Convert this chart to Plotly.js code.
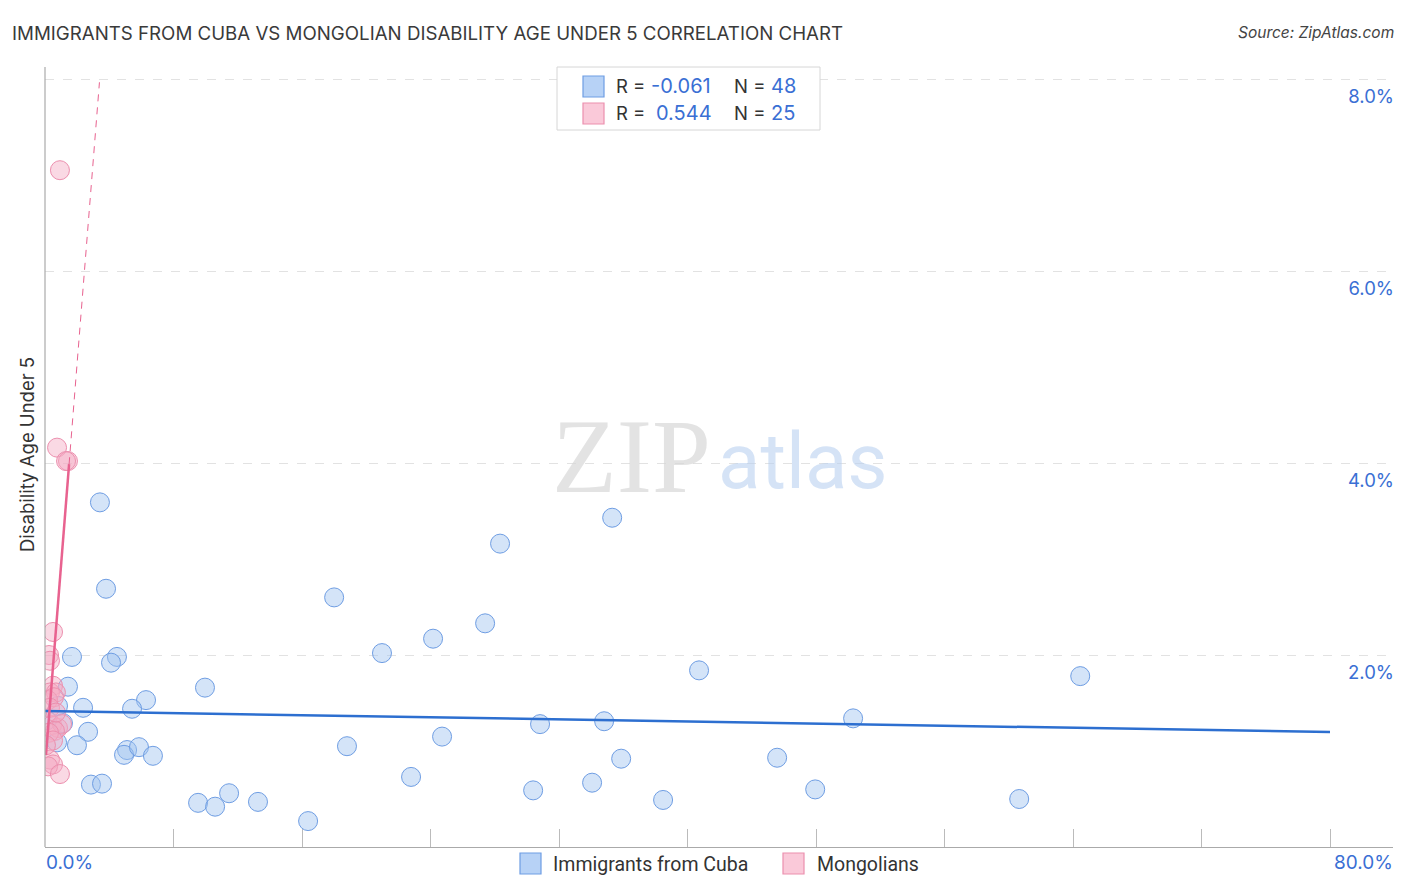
<!DOCTYPE html>
<html>
<head>
<meta charset="utf-8">
<script src="https://cdn.plot.ly/plotly-3.0.1.min.js"></script>
<style>html,body{margin:0;padding:0;background:#fff;}#chart{width:1406px;height:892px;}</style>
</head>
<body>
<div id="chart"></div>
<script>
// ---- data (percent values) ----
var cubaX = [3.42,3.80,1.68,4.48,4.11,1.43,0.81,2.37,6.29,5.42,2.68,1.99,5.11,4.92,5.85,6.72,2.86,3.55,
             9.96,9.53,10.59,11.46,13.26,16.38,18.00,18.80,20.98,22.79,24.16,24.72,27.40,28.33,30.39,30.82,
             34.06,34.81,35.31,35.87,38.48,40.72,45.58,47.95,50.31,60.65,64.45,0.75,1.12,0.12];
var cubaY = [3.59,2.69,1.98,1.98,1.92,1.67,1.47,1.45,1.53,1.44,1.20,1.06,1.01,0.96,1.04,0.95,0.65,0.66,
             1.66,0.46,0.42,0.56,0.47,0.27,2.60,1.05,2.02,0.73,2.17,1.15,2.33,3.16,0.59,1.28,
             0.67,1.31,3.43,0.92,0.49,1.84,0.93,0.60,1.34,0.50,1.78,1.09,1.29,1.32];
var mongX = [0.93,0.75,1.43,1.31,0.50,0.25,0.31,0.50,0.31,0.68,0.19,0.56,0.44,0.81,1.06,0.62,0.25,0.50,
             0.31,0.50,0.19,0.93,0.31,0.68,0.06];
var mongY = [7.05,4.16,4.02,4.02,2.24,2.00,1.94,1.68,1.61,1.61,1.53,1.56,1.27,1.24,1.28,1.21,1.19,1.11,
             0.91,0.86,0.84,0.76,1.45,1.40,1.06];
// trend lines: [intercept, slope]
var cubaTrend = [1.417, -0.00274];
var mongTrend = [0.83, 2.105];
var cubaTrendX = [0, 80];
var mongSolidX = [0.06, 1.5];
var mongDashX = [1.5, 3.39];
var xTicks = [0,8,16,24,32,40,48,56,64,72,80];
var xEndLabels = ['0.0%','80.0%'];
var yTicks = [2,4,6,8];
var yTickText = ['2.0%','4.0%','6.0%','8.0%'];
var seriesNames = ['Immigrants from Cuba','Mongolians'];
var statsR = ['-0.061','0.544'];
var statsN = ['48','25'];

function lineY(t, xs){ return xs.map(function(x){ return t[0] + t[1]*x; }); }

var blueFill = 'rgba(160,195,240,0.45)', blueLine = '#6e9de3';
var pinkFill = 'rgba(245,170,196,0.45)', pinkLine = '#ec8fae';
var blueSw = 'rgba(170,202,245,0.85)', pinkSw = 'rgba(250,195,213,0.9)';
var blueTrend = '#2d6fd0', pinkTrend = '#e8628f';
var valColor = '#3a6fd4';
var FONT = 'Inter, Open Sans, sans-serif';

var traces = [
  {x: cubaX, y: cubaY, type:'scatter', mode:'markers', name:seriesNames[0],
   marker:{size:19, color:blueFill, line:{color:blueLine, width:1}}},
  {x: mongX, y: mongY, type:'scatter', mode:'markers', name:seriesNames[1],
   marker:{size:19, color:pinkFill, line:{color:pinkLine, width:1}}},
  {x: cubaTrendX, y: lineY(cubaTrend, cubaTrendX), type:'scatter', mode:'lines',
   line:{color:blueTrend, width:2.5}},
  {x: mongSolidX, y: lineY(mongTrend, mongSolidX), type:'scatter', mode:'lines',
   line:{color:pinkTrend, width:2.5}},
  {x: mongDashX, y: lineY(mongTrend, mongDashX), type:'scatter', mode:'lines',
   line:{color:pinkTrend, width:1, dash:'7px,6px'}}
];

var W = 1348, H = 777, L = 45, T = 70;
function px(x){ return (x - L)/W; }
function py(y){ return (T + H - y)/H; }

var ann = [
  {xref:'paper', yref:'paper', x:px(44), y:py(862), xanchor:'left', yanchor:'middle', showarrow:false,
   text:xEndLabels[0], font:{size:19, color:valColor, family:FONT}},
  {xref:'paper', yref:'paper', x:px(1395), y:py(862), xanchor:'right', yanchor:'middle', showarrow:false,
   text:xEndLabels[1], font:{size:19, color:valColor, family:FONT}},
  {xref:'paper', yref:'paper', x:px(1396), y:py(33), xanchor:'right', yanchor:'middle', showarrow:false,
   text:'<i>Source: ZipAtlas.com</i>', font:{size:15.5, color:'#444', family:FONT}},
  {xref:'paper', yref:'paper', x:px(27), y:py(455), xanchor:'center', yanchor:'middle', showarrow:false,
   textangle:-90, text:'Disability Age Under 5', font:{size:18.5, color:'#333', family:FONT}},
  {xref:'paper', yref:'paper', x:px(713), y:py(456), xanchor:'right', yanchor:'middle', showarrow:false,
   text:'ZIP', font:{size:106, color:'rgba(215,215,215,0.7)', family:'Liberation Serif'}},
  {xref:'paper', yref:'paper', x:px(716), y:py(462), xanchor:'left', yanchor:'middle', showarrow:false,
   text:'atlas', font:{size:78, color:'rgba(185,208,240,0.6)', family:'Roboto'}}
];
var rowsY = [86, 113];
var valX = [649, 654];
for (var i=0;i<2;i++){
  ann.push({xref:'paper', yref:'paper', x:px(614), y:py(rowsY[i]), xanchor:'left', yanchor:'middle', showarrow:false,
    text:'R =', font:{size:18.5, color:'#333', family:FONT}});
  ann.push({xref:'paper', yref:'paper', x:px(valX[i]), y:py(rowsY[i]), xanchor:'left', yanchor:'middle', showarrow:false,
    text:statsR[i], font:{size:20, color:valColor, family:FONT}});
  ann.push({xref:'paper', yref:'paper', x:px(732), y:py(rowsY[i]), xanchor:'left', yanchor:'middle', showarrow:false,
    text:'N =', font:{size:18.5, color:'#333', family:FONT}});
  ann.push({xref:'paper', yref:'paper', x:px(769), y:py(rowsY[i]), xanchor:'left', yanchor:'middle', showarrow:false,
    text:statsN[i], font:{size:20, color:valColor, family:FONT}});
}
// bottom legend
var legSwX = [520, 783], legTxtX = [551, 815];
for (var j=0;j<2;j++){
  ann.push({xref:'paper', yref:'paper', x:px(legTxtX[j]), y:py(864), xanchor:'left', yanchor:'middle', showarrow:false,
    text:seriesNames[j], font:{size:19.5, color:'#333', family:'Roboto'}});
}

var shapes = [
  {type:'line', xref:'paper', yref:'paper', x0:0, x1:0, y0:0, y1:py(67), line:{color:'#aaa', width:1.2}},
  {type:'rect', xref:'paper', yref:'paper', x0:px(557), x1:px(820), y0:py(130), y1:py(67),
   fillcolor:'#fff', line:{color:'#d6d6d6', width:1}, layer:'above'},
  {type:'rect', xref:'paper', yref:'paper', x0:px(583), x1:px(604), y0:py(97), y1:py(76),
   fillcolor:blueSw, line:{color:blueLine, width:1.2}, layer:'above'},
  {type:'rect', xref:'paper', yref:'paper', x0:px(583), x1:px(604), y0:py(124), y1:py(103),
   fillcolor:pinkSw, line:{color:pinkLine, width:1.2}, layer:'above'},
  {type:'rect', xref:'paper', yref:'paper', x0:px(legSwX[0]), x1:px(legSwX[0]+21), y0:py(874), y1:py(853),
   fillcolor:blueSw, line:{color:blueLine, width:1.2}, layer:'above'},
  {type:'rect', xref:'paper', yref:'paper', x0:px(legSwX[1]), x1:px(legSwX[1]+21), y0:py(874), y1:py(853),
   fillcolor:pinkSw, line:{color:pinkLine, width:1.2}, layer:'above'}
];

var layout = {
  width:1406, height:892,
  margin:{l:L, r:1406-L-W, t:T, b:892-T-H, pad:0},
  paper_bgcolor:'#fff', plot_bgcolor:'#fff',
  font:{family:FONT, color:'#333'},
  showlegend:false,
  title:{text:'IMMIGRANTS FROM CUBA VS MONGOLIAN DISABILITY AGE UNDER 5 CORRELATION CHART',
    xref:'container', yref:'container', x:12/1406, xanchor:'left', y:1-33/892, yanchor:'middle',
    font:{size:18.7, color:'#3a3a3a', family:FONT}},
  xaxis:{range:[0, W/16.0625], showgrid:false, zeroline:false, showline:true, linecolor:'#aaa', linewidth:1.2,
    ticks:'inside', ticklen:18, tickcolor:'#bbb', tickwidth:1, tickvals:xTicks, ticktext:xTicks.map(function(){return '';}),
    fixedrange:true},
  yaxis:{range:[0, H/96], side:'right', showgrid:true, gridcolor:'#e2e2e2', griddash:'dash', gridwidth:1,
    zeroline:false, showline:false, ticks:'', tickvals:yTicks, ticktext:yTickText,
    ticklabelposition:'inside bottom', ticklabelstandoff:-4, ticklabelshift:5,
    tickfont:{size:18.5, color:valColor, family:FONT}, fixedrange:true},
  annotations:ann,
  shapes:shapes
};

Plotly.newPlot('chart', traces, layout, {displayModeBar:false, staticPlot:true});
</script>
</body>
</html>
